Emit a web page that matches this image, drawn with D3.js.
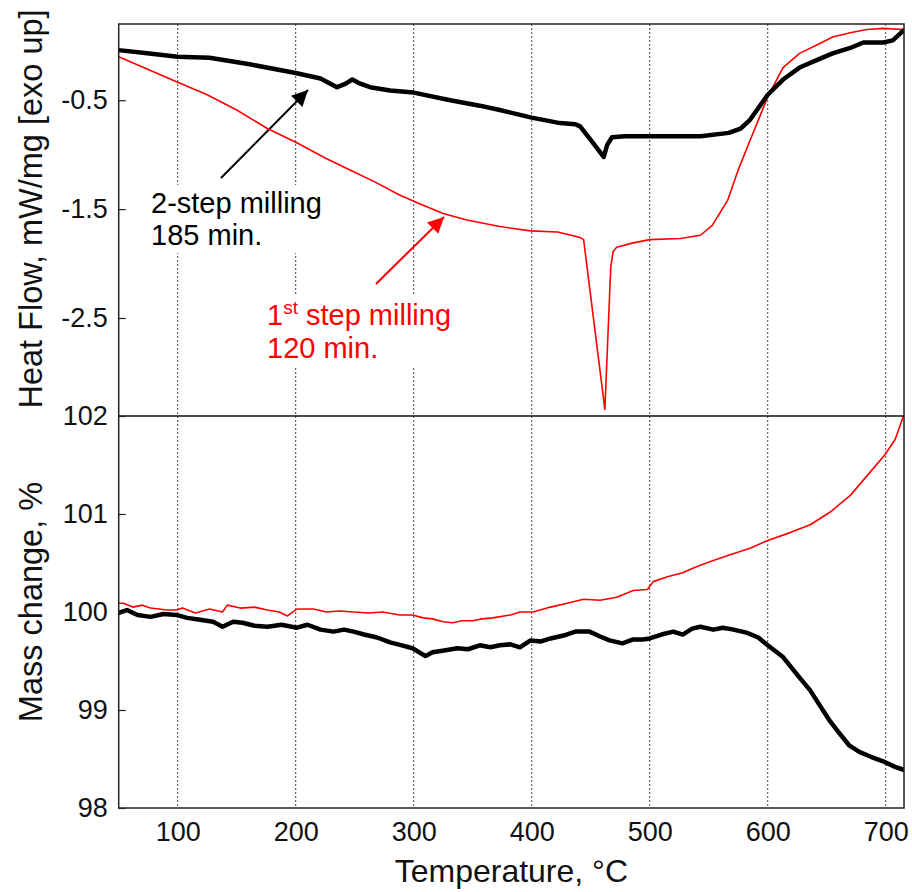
<!DOCTYPE html>
<html>
<head>
<meta charset="utf-8">
<script src="https://cdn.jsdelivr.net/npm/d3@7"></script>
<style>
  body { margin: 0; background: #fff; }
  text { font-family: "Liberation Sans", Arial, sans-serif; }
</style>
</head>
<body>
<svg id="chart" width="912" height="892"></svg>
<script>
// DSC / TG data (temperature in deg C)
var dscBlackT = [50, 76, 100, 127, 161, 200, 221, 235, 242, 248, 253, 263, 280, 300, 331, 356, 373, 400, 424, 437, 441, 449, 461, 464, 468, 479, 500, 543, 567, 577, 585, 600, 613, 627, 642, 655, 670, 681, 698, 706, 715];
var dscBlackV = [-0.04, -0.07, -0.10, -0.11, -0.17, -0.25, -0.30, -0.38, -0.35, -0.31, -0.34, -0.38, -0.41, -0.43, -0.50, -0.55, -0.59, -0.66, -0.71, -0.72, -0.74, -0.85, -1.02, -0.91, -0.84, -0.83, -0.83, -0.83, -0.80, -0.76, -0.68, -0.45, -0.31, -0.20, -0.13, -0.07, -0.02, 0.03, 0.03, 0.05, 0.14];

var dscRedT = [50, 99, 125, 150, 176, 201, 225, 246, 267, 288, 305, 325, 345, 373, 399, 422, 441, 444, 462, 467, 469, 472, 486, 500, 526, 543, 553, 566, 575, 585, 600, 613, 627, 642, 655, 670, 684, 698, 715];
var dscRedV = [-0.10, -0.33, -0.45, -0.59, -0.76, -0.89, -1.03, -1.14, -1.25, -1.37, -1.45, -1.54, -1.60, -1.66, -1.70, -1.71, -1.76, -1.78, -3.34, -2.03, -1.89, -1.85, -1.81, -1.78, -1.77, -1.74, -1.65, -1.42, -1.14, -0.87, -0.47, -0.20, -0.07, 0.01, 0.08, 0.12, 0.15, 0.16, 0.15];

var tgBlackT = [50, 57, 66, 77, 88, 99, 108, 119, 130, 138, 147, 155, 165, 176, 188, 201, 210, 221, 232, 241, 249, 258, 269, 280, 290, 299, 310, 316, 327, 337, 346, 356, 365, 373, 382, 390, 399, 408, 416, 427, 437, 449, 458, 466, 477, 486, 494, 500, 510, 520, 528, 536, 543, 554, 562, 571, 582, 592, 600, 613, 627, 636, 644, 652, 661, 669, 678, 688, 699, 708, 715];
var tgBlackV = [99.99, 100.02, 99.97, 99.95, 99.98, 99.97, 99.94, 99.92, 99.90, 99.85, 99.90, 99.89, 99.86, 99.85, 99.87, 99.84, 99.87, 99.82, 99.80, 99.82, 99.80, 99.77, 99.74, 99.69, 99.66, 99.63, 99.55, 99.59, 99.61, 99.63, 99.62, 99.66, 99.64, 99.66, 99.67, 99.64, 99.71, 99.70, 99.73, 99.76, 99.80, 99.80, 99.75, 99.71, 99.68, 99.72, 99.72, 99.73, 99.77, 99.80, 99.77, 99.83, 99.85, 99.82, 99.84, 99.82, 99.79, 99.74, 99.66, 99.54, 99.33, 99.20, 99.05, 98.90, 98.76, 98.64, 98.57, 98.52, 98.47, 98.42, 98.39];

var tgRedT = [50, 54, 62, 70, 77, 91, 99, 104, 115, 127, 138, 142, 153, 165, 176, 186, 193, 201, 215, 226, 237, 249, 262, 274, 288, 299, 308, 316, 325, 333, 341, 350, 358, 367, 382, 390, 401, 416, 430, 444, 458, 472, 486, 498, 503, 515, 528, 537, 548, 560, 572, 585, 600, 619, 636, 653, 670, 687, 699, 708, 715];
var tgRedV = [100.09, 100.09, 100.05, 100.07, 100.04, 100.02, 100.02, 100.04, 99.99, 100.03, 100.00, 100.07, 100.04, 100.05, 100.02, 100.00, 99.96, 100.03, 100.03, 100.00, 100.01, 100.00, 99.99, 100.00, 99.97, 99.97, 99.94, 99.93, 99.90, 99.89, 99.91, 99.91, 99.93, 99.94, 99.97, 100.00, 100.00, 100.05, 100.09, 100.13, 100.12, 100.15, 100.22, 100.23, 100.31, 100.36, 100.40, 100.45, 100.50, 100.55, 100.60, 100.65, 100.73, 100.81, 100.89, 101.02, 101.19, 101.43, 101.60, 101.76, 102.00];

var xTicks = [100, 200, 300, 400, 500, 600, 700];
var dscTicks = [-0.5, -1.5, -2.5];
var tgTicks = [98, 99, 100, 101, 102];

var svg = d3.select("#chart");
var left = 118.7, right = 904, top1 = 24, mid = 416, bottom = 808;
var font = "Liberation Sans, Arial, sans-serif";

var x = d3.scaleLinear().domain([50, 715.5]).range([left, right]);
var yDsc = d3.scaleLinear().domain([-3.4, 0.2]).range([mid, top1]);
var yTg = d3.scaleLinear().domain([98, 102]).range([bottom, mid]);

function zip(a, b) { return a.map(function(t, i) { return [t, b[i]]; }); }
// plain hyphen instead of d3's unicode minus
function hyph(d) { return d.toFixed(1).replace("\u2212", "-"); }

// clip paths for each panel
var defs = svg.append("defs");
defs.append("clipPath").attr("id", "clipTop").append("rect")
    .attr("x", left).attr("y", top1).attr("width", right - left).attr("height", mid - top1);
defs.append("clipPath").attr("id", "clipBot").append("rect")
    .attr("x", left).attr("y", mid).attr("width", right - left).attr("height", bottom - mid);
defs.append("marker").attr("id", "headBlack").attr("viewBox", "0 0 10 10")
    .attr("refX", 10).attr("refY", 5)
    .attr("markerUnits", "userSpaceOnUse").attr("orient", "auto")
    .attr("markerWidth", 18).attr("markerHeight", 16)
    .append("path").attr("d", "M0,0 L10,5 L0,10 z").attr("fill", "#000");
defs.append("marker").attr("id", "headRed").attr("viewBox", "0 0 10 10")
    .attr("refX", 10).attr("refY", 5)
    .attr("markerUnits", "userSpaceOnUse").attr("orient", "auto")
    .attr("markerWidth", 18).attr("markerHeight", 16)
    .append("path").attr("d", "M0,0 L10,5 L0,10 z").attr("fill", "#ff0000");

// vertical dotted grid
svg.append("g").selectAll("line").data(xTicks).enter().append("line")
    .attr("x1", function(d) { return x(d); }).attr("x2", function(d) { return x(d); })
    .attr("y1", top1).attr("y2", bottom)
    .attr("stroke", "#444").attr("stroke-width", 1).attr("stroke-dasharray", "2,2");

// annotation labels (white background hides grid)
function label(tx, ty, color, lines) {
    var grp = svg.append("g");
    var bg = grp.append("rect").attr("fill", "#fff");
    var t = grp.append("text").attr("x", x(tx)).attr("y", yDsc(ty))
        .style("font-size", "29px").attr("fill", color);
    lines(t);
    var bb = t.node().getBBox();
    bg.attr("x", bb.x - 3).attr("y", bb.y - 2).attr("width", bb.width + 6).attr("height", bb.height + 4);
}
label(77.4, -1.536, "#000", function(t) {
    t.append("tspan").attr("x", x(77.4)).text("2-step milling");
    t.append("tspan").attr("x", x(77.4)).attr("dy", 32).text("185 min.");
});
label(175.7, -2.564, "#ff0000", function(t) {
    t.append("tspan").attr("x", x(175.7)).text("1");
    t.append("tspan").attr("dy", -11).style("font-size", "19px").text("st");
    t.append("tspan").attr("dy", 11).text(" step milling");
    t.append("tspan").attr("x", x(175.7)).attr("dy", 33).text("120 min.");
});

// arrows
svg.append("line")
    .attr("x1", x(136.7)).attr("y1", yDsc(-1.214)).attr("x2", x(210.4)).attr("y2", yDsc(-0.406))
    .attr("stroke", "#000").attr("stroke-width", 2).attr("marker-end", "url(#headBlack)");
svg.append("line")
    .attr("x1", x(268)).attr("y1", yDsc(-2.187)).attr("x2", x(325.7)).attr("y2", yDsc(-1.572))
    .attr("stroke", "#ff0000").attr("stroke-width", 2).attr("marker-end", "url(#headRed)");

// curves
var lineDsc = d3.line().x(function(d) { return x(d[0]); }).y(function(d) { return yDsc(d[1]); });
var lineTg = d3.line().x(function(d) { return x(d[0]); }).y(function(d) { return yTg(d[1]); });

var gTop = svg.append("g").attr("clip-path", "url(#clipTop)");
gTop.append("path").datum(zip(dscRedT, dscRedV)).attr("d", lineDsc)
    .attr("fill", "none").attr("stroke", "#ff0000").attr("stroke-width", 1.6).attr("stroke-linejoin", "round");
gTop.append("path").datum(zip(dscBlackT, dscBlackV)).attr("d", lineDsc)
    .attr("fill", "none").attr("stroke", "#000").attr("stroke-width", 4.5).attr("stroke-linejoin", "round").attr("stroke-linecap", "round");

var gBot = svg.append("g").attr("clip-path", "url(#clipBot)");
gBot.append("path").datum(zip(tgRedT, tgRedV)).attr("d", lineTg)
    .attr("fill", "none").attr("stroke", "#ff0000").attr("stroke-width", 1.6).attr("stroke-linejoin", "round");
gBot.append("path").datum(zip(tgBlackT, tgBlackV)).attr("d", lineTg)
    .attr("fill", "none").attr("stroke", "#000").attr("stroke-width", 4.5).attr("stroke-linejoin", "round").attr("stroke-linecap", "round");

// frames
svg.append("rect").attr("x", left).attr("y", top1).attr("width", right - left).attr("height", bottom - top1)
    .attr("fill", "none").attr("stroke", "#222").attr("stroke-width", 1.5);
svg.append("line").attr("x1", left).attr("x2", right).attr("y1", mid).attr("y2", mid)
    .attr("stroke", "#111").attr("stroke-width", 1.5);

// y axes (ticks inside)
function styleY(g) {
    g.select(".domain").remove();
    g.selectAll("line").attr("stroke", "#222").attr("stroke-width", 1.2);
    g.selectAll("text").attr("x", -11).attr("text-anchor", "end")
        .style("font-size", "27px").style("font-family", font).attr("fill", "#111");
}
svg.append("g").attr("transform", "translate(" + left + ",0)")
    .call(d3.axisRight(yDsc).tickValues(dscTicks).tickSize(7).tickFormat(hyph))
    .call(styleY);
svg.append("g").attr("transform", "translate(" + left + ",0)")
    .call(d3.axisRight(yTg).tickValues(tgTicks).tickSize(7).tickFormat(d3.format("d")))
    .call(styleY);

// x axis
svg.append("g").attr("transform", "translate(0," + bottom + ")")
    .call(d3.axisBottom(x).tickValues(xTicks).tickSize(0).tickPadding(14).tickFormat(d3.format("d")))
    .call(function(g) { g.select(".domain").remove(); })
    .call(function(g) {
        g.selectAll("text").style("font-size", "27px").style("font-family", font).attr("fill", "#111");
    });

// axis titles
svg.append("text").attr("x", (left + right) / 2).attr("y", 882).attr("text-anchor", "middle")
    .style("font-size", "32px").attr("fill", "#111").text("Temperature, \u00b0C");
svg.append("text").attr("transform", "translate(42,209) rotate(-90)").attr("text-anchor", "middle")
    .style("font-size", "32.5px").attr("fill", "#111").text("Heat Flow, mW/mg [exo up]");
svg.append("text").attr("transform", "translate(42,602) rotate(-90)").attr("text-anchor", "middle")
    .style("font-size", "32.5px").attr("fill", "#111").text("Mass change, %");
</script>
</body>
</html>
